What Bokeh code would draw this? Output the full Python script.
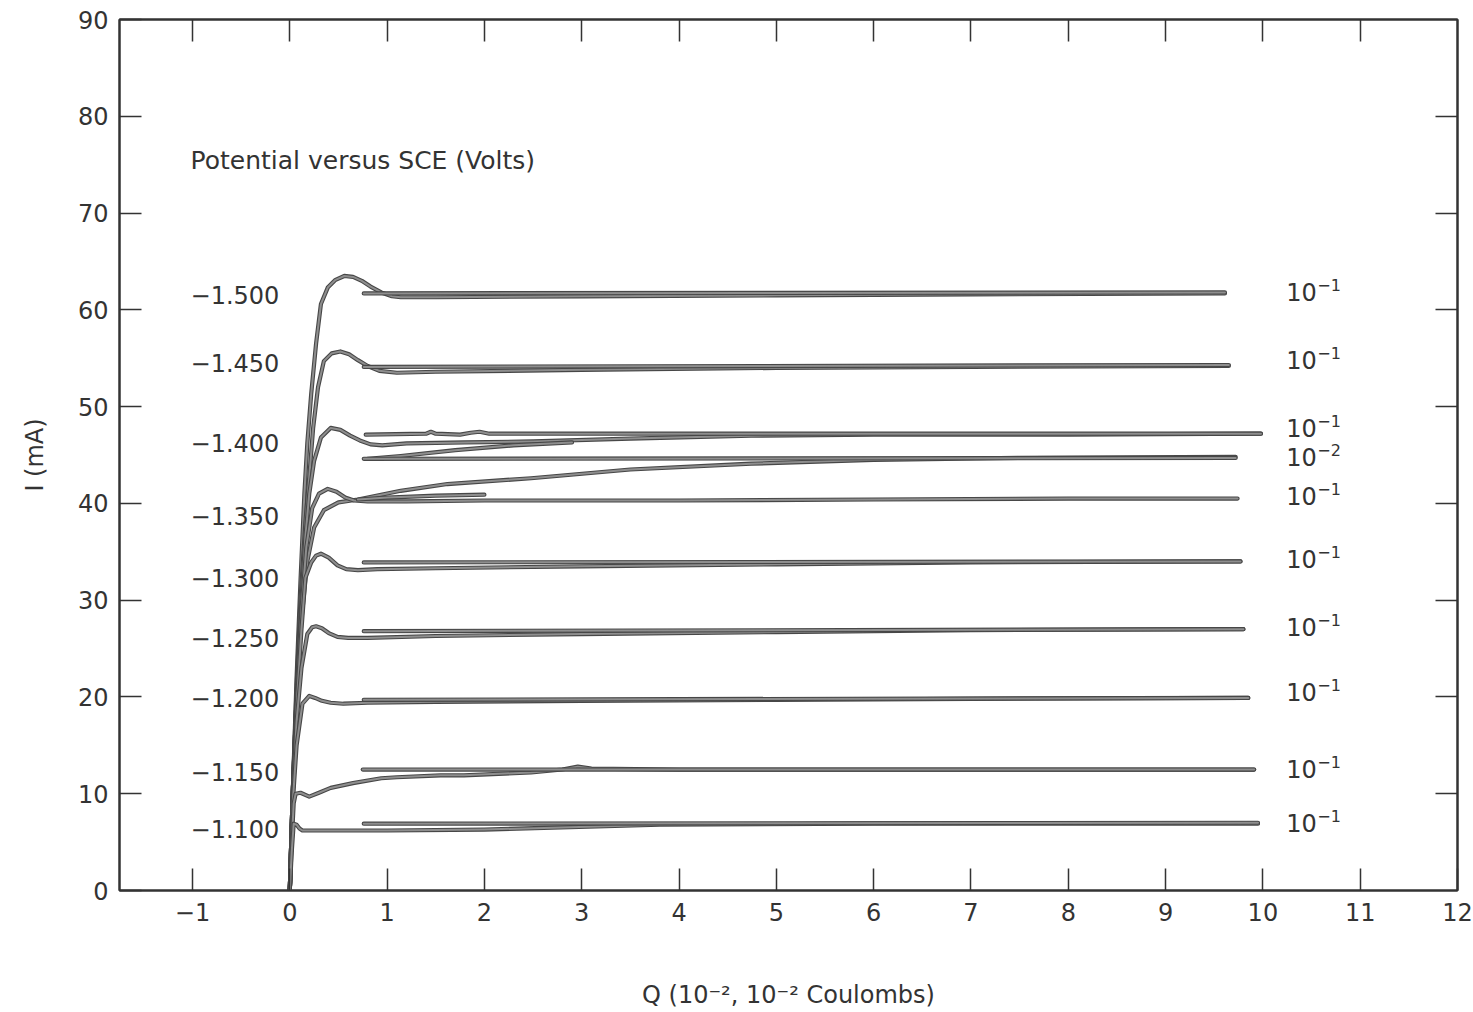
from bokeh.plotting import figure
from bokeh.models import LinearAxis, Range1d, FixedTicker, CustomJSTickFormatter, ColumnDataSource
from bokeh.embed import file_html
from bokeh.resources import INLINE
from bokeh.core.properties import value

FONT = "DejaVu Sans"
INK = "#333333"

# ---------------- data (Q in 1e-2 C, I in mA) ----------------
q_1500 = [0.00, 0.03, 0.07, 0.11, 0.15, 0.18, 0.22, 0.27, 0.32, 0.39, 0.47, 0.56, 0.65, 0.74, 0.83, 0.94, 1.05, 1.14, 1.5, 3.0, 5.0, 7.0, 9.61]
i_1500 = [0.0, 10.0, 22.0, 32.0, 41.0, 46.2, 51.3, 56.5, 60.6, 62.3, 63.1, 63.5, 63.4, 63.0, 62.4, 61.8, 61.4, 61.3, 61.3, 61.4, 61.5, 61.6, 61.7]
q_1500_ret = [9.61, 0.76]
i_1500_ret = [61.8, 61.7]

q_1450 = [0.00, 0.03, 0.07, 0.11, 0.16, 0.20, 0.24, 0.29, 0.35, 0.43, 0.52, 0.61, 0.70, 0.80, 0.92, 1.10, 1.5, 3.0, 5.0, 7.0, 9.65]
i_1450 = [0.0, 10.0, 21.0, 30.0, 38.0, 42.7, 47.8, 52.0, 54.7, 55.5, 55.7, 55.4, 54.8, 54.2, 53.7, 53.5, 53.6, 53.8, 54.0, 54.1, 54.2]
q_1450_ret = [9.65, 0.76]
i_1450_ret = [54.3, 54.1]

q_1400a = [0.00, 0.03, 0.07, 0.12, 0.16, 0.20, 0.25, 0.32, 0.42, 0.52, 0.62, 0.72, 0.83, 0.95, 1.2, 1.8, 2.5, 3.5, 4.74, 6.0, 8.0, 9.98]
i_1400a = [0.0, 10.0, 20.0, 30.0, 36.5, 41.0, 44.4, 46.8, 47.8, 47.6, 47.0, 46.5, 46.1, 46.0, 46.2, 46.3, 46.4, 46.7, 47.0, 47.1, 47.1, 47.2]
q_1400a_ret = [9.98, 5.0, 2.05, 1.95, 1.86, 1.75, 1.50, 1.45, 1.40, 0.78]
i_1400a_ret = [47.2, 47.2, 47.2, 47.4, 47.3, 47.1, 47.2, 47.4, 47.2, 47.1]
q_1400a_x = [0.80, 1.14, 1.7, 2.3, 2.9]
i_1400a_x = [44.6, 44.9, 45.5, 46.0, 46.3]

q_1400b = [0.00, 0.03, 0.07, 0.12, 0.18, 0.25, 0.35, 0.50, 0.70, 1.14, 1.62, 2.48, 3.5, 4.74, 6.0, 7.5, 9.72]
i_1400b = [0.0, 10.0, 20.0, 28.0, 34.0, 37.5, 39.3, 40.1, 40.4, 41.3, 42.0, 42.6, 43.5, 44.1, 44.5, 44.7, 44.8]
q_1400b_ret = [9.72, 0.76]
i_1400b_ret = [44.7, 44.6]

q_1350 = [0.00, 0.03, 0.07, 0.12, 0.17, 0.23, 0.30, 0.39, 0.48, 0.57, 0.66, 0.80, 1.2, 2.0, 4.0, 6.0, 8.0, 9.74]
i_1350 = [0.0, 10.0, 20.0, 29.0, 35.5, 39.5, 41.0, 41.5, 41.2, 40.6, 40.3, 40.2, 40.2, 40.3, 40.3, 40.4, 40.5, 40.5]
q_1350_ret = [2.0, 1.5, 1.0, 0.70]
i_1350_ret = [40.9, 40.8, 40.6, 40.4]

q_1300 = [0.00, 0.03, 0.07, 0.12, 0.16, 0.22, 0.27, 0.32, 0.40, 0.49, 0.58, 0.70, 0.90, 1.5, 3.0, 5.0, 7.0, 9.77]
i_1300 = [0.0, 10.0, 19.0, 27.0, 32.3, 33.9, 34.6, 34.8, 34.4, 33.6, 33.2, 33.1, 33.2, 33.3, 33.5, 33.7, 33.9, 34.0]
q_1300_ret = [9.77, 0.76]
i_1300_ret = [34.0, 33.9]

q_1250 = [0.00, 0.03, 0.07, 0.12, 0.18, 0.23, 0.27, 0.33, 0.40, 0.49, 0.60, 0.80, 1.5, 3.0, 5.0, 7.0, 9.80]
i_1250 = [0.0, 9.5, 17.5, 23.0, 26.5, 27.2, 27.3, 27.1, 26.6, 26.2, 26.1, 26.1, 26.3, 26.5, 26.7, 26.9, 27.0]
q_1250_ret = [9.80, 0.76]
i_1250_ret = [27.0, 26.8]

q_1200 = [0.00, 0.03, 0.07, 0.13, 0.20, 0.26, 0.33, 0.42, 0.55, 0.80, 1.5, 3.0, 5.0, 7.0, 9.85]
i_1200 = [0.0, 9.0, 15.0, 19.3, 20.1, 19.9, 19.6, 19.4, 19.3, 19.4, 19.5, 19.6, 19.7, 19.8, 19.9]
q_1200_ret = [9.85, 0.76]
i_1200_ret = [19.9, 19.7]

q_1150 = [0.00, 0.02, 0.04, 0.06, 0.11, 0.20, 0.30, 0.42, 0.65, 0.94, 1.10, 1.55, 1.79, 2.48, 2.80, 2.96, 3.10, 4.0, 6.0, 8.0, 9.91]
i_1150 = [0.0, 5.0, 9.0, 10.0, 10.1, 9.7, 10.1, 10.6, 11.1, 11.6, 11.7, 11.9, 11.9, 12.2, 12.5, 12.8, 12.6, 12.5, 12.5, 12.5, 12.5]
q_1150_ret = [9.91, 0.75]
i_1150_ret = [12.5, 12.5]

q_1100 = [0.00, 0.02, 0.04, 0.07, 0.10, 0.13, 0.30, 1.0, 2.0, 3.8, 6.0, 8.0, 9.95]
i_1100 = [0.0, 4.0, 6.9, 6.8, 6.4, 6.2, 6.2, 6.2, 6.3, 6.8, 6.9, 6.9, 6.9]
q_1100_ret = [9.95, 0.76]
i_1100_ret = [7.0, 6.9]

potential_labels = ["\u22121.500", "\u22121.450", "\u22121.400", "\u22121.350", "\u22121.300",
                    "\u22121.250", "\u22121.200", "\u22121.150", "\u22121.100"]
potential_y = [61.5, 54.5, 46.2, 38.7, 32.3, 26.1, 19.9, 12.2, 6.4]
potential_x = -1.02

scale_base = ["10"] * 10
scale_exp = ["\u22121", "\u22121", "\u22121", "\u22122", "\u22121",
             "\u22121", "\u22121", "\u22121", "\u22121", "\u22121"]
scale_y = [61.8, 54.8, 47.8, 44.8, 40.8, 34.3, 27.2, 20.5, 12.6, 7.0]
scale_x = 10.24

x_ticks = list(range(-1, 13))
y_ticks = list(range(0, 91, 10))

traces = [
    (q_1500, i_1500), (q_1500_ret, i_1500_ret),
    (q_1450, i_1450), (q_1450_ret, i_1450_ret),
    (q_1400a, i_1400a), (q_1400a_ret, i_1400a_ret), (q_1400a_x, i_1400a_x),
    (q_1400b, i_1400b), (q_1400b_ret, i_1400b_ret),
    (q_1350, i_1350), (q_1350_ret, i_1350_ret),
    (q_1300, i_1300), (q_1300_ret, i_1300_ret),
    (q_1250, i_1250), (q_1250_ret, i_1250_ret),
    (q_1200, i_1200), (q_1200_ret, i_1200_ret),
    (q_1150, i_1150), (q_1150_ret, i_1150_ret),
    (q_1100, i_1100), (q_1100_ret, i_1100_ret),
]

# ---------------- figure ----------------
p = figure(width=1473, height=1012, x_range=Range1d(-1.75, 12), y_range=Range1d(0, 90),
           output_backend="svg", toolbar_location=None,
           min_border_left=119, min_border_right=16, min_border_top=19, min_border_bottom=122)
p.xgrid.visible = False
p.ygrid.visible = False
p.background_fill_color = "white"
p.border_fill_color = "white"
p.outline_line_color = INK
p.outline_line_width = 2


def style_axis(ax, ticks, labels=True):
    ax.ticker = FixedTicker(ticks=ticks)
    ax.minor_tick_line_color = None
    ax.major_tick_in = 22
    ax.major_tick_out = 0
    ax.major_tick_line_color = INK
    ax.major_tick_line_width = 1.5
    ax.axis_line_color = INK
    ax.axis_line_width = 2
    ax.major_label_text_font = FONT
    ax.major_label_text_font_size = "24px"
    ax.major_label_text_color = INK
    ax.axis_label_text_font = FONT
    ax.axis_label_text_font_size = "24px"
    ax.axis_label_text_font_style = "normal"
    ax.axis_label_text_color = INK
    if not labels:
        ax.formatter = CustomJSTickFormatter(code="return ''")
        ax.major_label_standoff = 0


xb = p.xaxis[0]
style_axis(xb, x_ticks)
xb.major_label_overrides = {t: (str(t) if t >= 0 else "\u2212" + str(-t)) for t in x_ticks}
xb.major_label_standoff = 12
xb.axis_label = "Q (10\u207b\u00b2, 10\u207b\u00b2 Coulombs)"
xb.axis_label_standoff = 57

yl = p.yaxis[0]
style_axis(yl, y_ticks)
yl.major_label_standoff = 11
yl.axis_label = "I (mA)"
yl.axis_label_standoff = 26

top = LinearAxis()
style_axis(top, x_ticks[:-1], labels=False)
p.add_layout(top, "above")
right = LinearAxis()
style_axis(right, y_ticks[1:-1], labels=False)
p.add_layout(right, "right")

for qs, ii in traces:
    src = ColumnDataSource(dict(q=qs, i=ii))
    p.line("q", "i", source=src, line_color="#474747", line_width=4.2, line_join="round", line_cap="round")
    p.line("q", "i", source=src, line_color="#8e8e8e", line_width=2.0, line_join="round", line_cap="round")

p.text(x=[potential_x] * len(potential_y), y=potential_y, text=potential_labels,
       text_font=value(FONT), text_font_size="24px", text_color=INK,
       text_align="left", text_baseline="middle")
p.text(x=[scale_x] * len(scale_y), y=scale_y, text=scale_base,
       text_font=value(FONT), text_font_size="24px", text_color=INK,
       text_align="left", text_baseline="middle")
p.text(x=[scale_x] * len(scale_y), y=scale_y, text=scale_exp,
       text_font=value(FONT), text_font_size="16px", text_color=INK,
       text_align="left", text_baseline="middle", x_offset=31, y_offset=-7)
p.text(x=[potential_x], y=[75.4], text=["Potential versus SCE (Volts)"],
       text_font=value(FONT), text_font_size="25px", text_color=INK,
       text_align="left", text_baseline="middle")

open("out.html", "w").write(file_html(p, INLINE))
